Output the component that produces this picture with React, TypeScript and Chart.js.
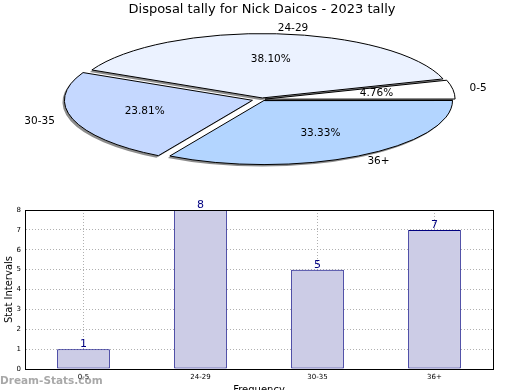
import React, { useEffect, useRef } from 'react';
import { Chart, registerables } from 'chart.js';

Chart.register(...registerables);

const FAMILY = '"DejaVu Sans", sans-serif';
Chart.defaults.font.family = FAMILY;

const titleText = 'Disposal tally for Nick Daicos - 2023 tally';
const categories = ['0-5', '24-29', '30-35', '36+'];
const counts = [1, 8, 5, 7];
const pieColors = ['#ffffff', '#ebf2ff', '#c5d8ff', '#b3d5ff'];
const pieOffsets = [12, 16, 40, 16];
const yTicks = [0, 1, 2, 3, 4, 5, 6, 7, 8];

const K = 0.34; // vertical squash of the pie
const R = 188;

// clockwise drawing order (Chart.js) == counter-clockwise reversed
const pieLabels = [...categories].reverse();
const pieValues = [...counts].reverse();
const pieBg = [...pieColors].reverse();
const pieOff = [...pieOffsets].reverse();

const squashPlugin = {
  id: 'squash',
  beforeDatasetsDraw(chart: any) {
    const ctx = chart.ctx;
    const meta = chart.getDatasetMeta(0);
    const cy = meta.data[0].y;
    ctx.save();
    ctx.shadowColor = 'rgba(0,0,0,0.45)';
    ctx.shadowOffsetX = -2;
    ctx.shadowOffsetY = 2;
    ctx.shadowBlur = 0;
    ctx.translate(0, cy);
    ctx.scale(1, K);
    ctx.translate(0, -cy);
    const orig = CanvasRenderingContext2D.prototype.stroke;
    const dpr = chart.currentDevicePixelRatio || 1;
    ctx.stroke = function (...args: any[]) {
      this.save();
      this.setTransform(dpr, 0, 0, dpr, 0, 0);
      this.shadowColor = 'rgba(0,0,0,0)';
      orig.apply(this, args as any);
      this.restore();
    };
  },
  afterDatasetsDraw(chart: any) {
    const ctx = chart.ctx;
    delete ctx.stroke;
    ctx.restore();
  },
};

const pieLabelPlugin = {
  id: 'pieLabels',
  afterDraw(chart: any) {
    const ctx = chart.ctx;
    const meta = chart.getDatasetMeta(0);
    const cy0 = meta.data[0].y;
    const data = chart.data.datasets[0].data as number[];
    const total = data.reduce((a, b) => a + b, 0);
    ctx.save();
    ctx.font = '10.5px ' + FAMILY;
    ctx.fillStyle = '#000';
    ctx.textBaseline = 'middle';
    meta.data.forEach((arc: any, i: number) => {
      const { x, y, startAngle, endAngle, outerRadius } = arc.getProps(
        ['x', 'y', 'startAngle', 'endAngle', 'outerRadius'],
        true
      );
      const mid = (startAngle + endAngle) / 2;
      const off = (arc.options.offset || 0) / 4;
      const c = Math.cos(mid);
      const s = Math.sin(mid);
      const ox = x + c * off;
      const oy = cy0 + K * (y - cy0 + s * off);
      const pct = ((data[i] / total) * 100).toFixed(2) + '%';
      ctx.textAlign = 'center';
      ctx.fillText(pct, ox + 0.6 * outerRadius * c, oy + K * 0.6 * outerRadius * s);
      ctx.textAlign = c >= 0 ? 'left' : 'right';
      ctx.fillText(
        chart.data.labels[i],
        ox + 1.1 * outerRadius * c,
        oy + K * 1.1 * outerRadius * s
      );
    });
    ctx.restore();
  },
};

const barPlugin = {
  id: 'barExtras',
  afterDraw(chart: any) {
    const ctx = chart.ctx;
    const a = chart.chartArea;
    ctx.save();
    ctx.strokeStyle = '#000';
    ctx.lineWidth = 1;
    ctx.strokeRect(Math.round(a.left) + 0.5, Math.round(a.top) + 0.5, Math.round(a.right - a.left), Math.round(a.bottom - a.top));
    const meta = chart.getDatasetMeta(0);
    const data = chart.data.datasets[0].data as number[];
    ctx.fillStyle = '#000080';
    ctx.font = '11px ' + FAMILY;
    ctx.textAlign = 'center';
    ctx.textBaseline = 'bottom';
    meta.data.forEach((bar: any, i: number) => {
      ctx.fillText(String(data[i]), bar.x, bar.y + 1);
    });
    ctx.restore();
  },
};

export default function App() {
  const pieRef = useRef<HTMLCanvasElement>(null);
  const barRef = useRef<HTMLCanvasElement>(null);

  useEffect(() => {
    const pie = new Chart(pieRef.current!, {
      type: 'pie',
      data: {
        labels: pieLabels,
        datasets: [
          {
            data: pieValues,
            backgroundColor: pieBg,
            borderColor: '#000',
            borderWidth: 1,
            offset: pieOff,
            clip: false,
          } as any,
        ],
      },
      options: {
        animation: false,
        responsive: false,
        radius: R,
        rotation: 90,
        layout: { padding: { left: 4, right: 0, top: 0, bottom: 9 } },
        plugins: {
          legend: { display: false },
          tooltip: { enabled: false },
          title: {
            display: true,
            text: titleText,
            color: '#000',
            font: { size: 13, weight: 'normal', family: FAMILY },
            padding: { top: 2, bottom: 0 },
          },
        },
      } as any,
      plugins: [squashPlugin, pieLabelPlugin],
    });

    const bar = new Chart(barRef.current!, {
      type: 'bar',
      data: {
        labels: categories,
        datasets: [
          {
            data: counts,
            backgroundColor: '#ccccE6',
            borderColor: '#000080',
            borderWidth: 1,
            borderSkipped: false,
            barPercentage: 0.45,
            categoryPercentage: 1,
          },
        ],
      },
      options: {
        animation: false,
        responsive: false,
        layout: { padding: { top: 20, right: 27, left: 0, bottom: 0 } },
        plugins: {
          legend: { display: false },
          tooltip: { enabled: false },
        },
        scales: {
          x: {
            z: 1,
            grid: { offset: false, color: '#b0b0b0', drawTicks: false },
            border: { dash: [1, 2], color: '#000' },
            ticks: { font: { size: 7 }, color: '#000', padding: 4 },
            title: {
              display: true,
              text: 'Frequency',
              color: '#000',
              font: { size: 10 },
              padding: { top: 0, bottom: 0 },
            },
            afterFit(s: any) {
              s.height = 27;
            },
          },
          y: {
            z: 1,
            min: 0,
            max: 8,
            grid: { color: '#b0b0b0', drawTicks: false },
            border: { dash: [1, 2], color: '#000' },
            ticks: { font: { size: 7 }, color: '#000', padding: 4 },
            afterBuildTicks(s: any) {
              s.ticks = yTicks.map((v) => ({ value: v }));
            },
            title: {
              display: true,
              text: 'Stat Intervals',
              color: '#000',
              font: { size: 10 },
              padding: { top: 3, bottom: 0 },
            },
            afterFit(s: any) {
              s.width = 25;
            },
          },
        },
      } as any,
      plugins: [barPlugin],
    });

    return () => {
      pie.destroy();
      bar.destroy();
    };
  }, []);

  return (
    <div
      style={{
        position: 'fixed',
        left: 0,
        top: 0,
        width: 520,
        height: 390,
        overflow: 'hidden',
        background: '#fff',
      }}
    >
      <canvas
        ref={pieRef}
        width={520}
        height={190}
        style={{ position: 'absolute', left: 0, top: 0, width: 520, height: 190 }}
      />
      <canvas
        ref={barRef}
        width={520}
        height={206}
        style={{ position: 'absolute', left: 0, top: 190, width: 520, height: 206 }}
      />
      <div
        style={{
          position: 'absolute',
          left: 0,
          top: 375,
          fontFamily: FAMILY,
          fontWeight: 'bold',
          fontSize: 10.5,
          lineHeight: '11px',
          color: 'rgba(110,110,110,0.6)',
          whiteSpace: 'nowrap',
        }}
      >
        Dream-Stats.com
      </div>
    </div>
  );
}
